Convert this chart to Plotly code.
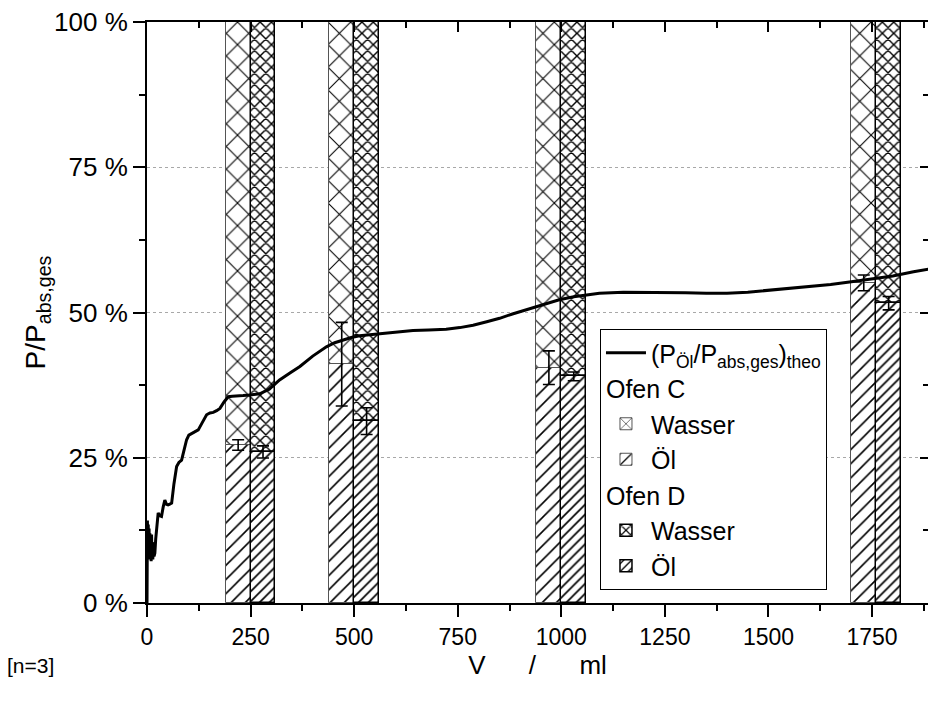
import plotly.graph_objects as go

# Volumes of the measured samples (ml) and bar geometry
volumes = [250, 500, 1000, 1760]
BAR_W = 60

# Oil share of absorbed power (%), furnace C and D, with standard deviation
oel_C = [27.2, 41.1, 40.5, 55.1]
err_C = [0.9, 7.2, 2.9, 1.35]
oel_D = [26.0, 31.3, 39.0, 51.6]
err_D = [1.05, 2.3, 0.75, 1.15]

# Theoretical oil share over volume
theo_V = [0, 0.5, 1, 2, 3, 4, 5, 6, 7, 8, 9, 10, 11, 12, 13, 14, 15.5, 17, 19, 21, 24, 27,
          31, 35, 39, 43, 47, 51, 55, 59.5, 65, 71.5, 77, 83.5, 90, 95.6, 101, 107.7, 115,
          123.7, 133, 143.8, 152, 159.9, 168, 176, 186, 196, 206, 216, 232, 248, 260, 272,
          295, 320, 345, 369, 400, 433, 453, 473, 493, 513, 540, 562, 600, 642, 680, 722,
          755, 787, 820, 851, 880, 907, 939, 965, 995, 1030, 1060, 1092, 1150, 1200, 1250,
          1300, 1350, 1400, 1450, 1500, 1550, 1600, 1650, 1700, 1750, 1800, 1850, 1890]
theo_P = [0, 6, 14.2, 9, 13.5, 8, 12.8, 7.5, 12, 8.5, 11.5, 7.2, 11.8, 8, 10.5, 7.5, 10, 8.0,
          8.6, 11, 14, 15.5, 15.0, 14.9, 16.5, 17.7, 17.0, 16.9, 17.0, 17.2, 20.5, 23.5, 24.2,
          24.6, 26.5, 28.1, 28.9, 29.2, 29.5, 29.8, 31.0, 32.4, 32.7, 32.8, 33.1, 33.5, 34.6,
          35.5, 35.6, 35.6, 35.7, 35.8, 35.9, 36.0, 36.8, 38.4, 39.6, 40.7, 42.5, 44.1, 44.8,
          45.3, 45.7, 46.0, 46.2, 46.3, 46.6, 46.9, 47.0, 47.1, 47.4, 47.8, 48.4, 49.0, 49.7,
          50.3, 51.0, 51.6, 52.2, 52.7, 53.0, 53.3, 53.5, 53.5, 53.5, 53.4, 53.3, 53.3, 53.5,
          53.8, 54.1, 54.5, 54.8, 55.3, 55.8, 56.3, 57.0, 57.5]

y_ticks = [0, 25, 50, 75, 100]
y_labels = [f"{v} %" for v in y_ticks]
x_ticks = [0, 250, 500, 750, 1000, 1250, 1500, 1750]
X_MAX = 1885

wasser_C = [100 - v for v in oel_C]
wasser_D = [100 - v for v in oel_D]
x_C = [v - BAR_W / 2 for v in volumes]
x_D = [v + BAR_W / 2 for v in volumes]

FONT = "Liberation Sans, Arial, sans-serif"
SP = "\u00a0" * 6


def hatch(shape, size, solidity):
    return dict(shape=shape, size=size, solidity=solidity, fgcolor="black",
                bgcolor="white", fillmode="replace")


fig = go.Figure()

fig.add_trace(go.Scatter(
    x=theo_V, y=theo_P, mode="lines", line=dict(color="black", width=3),
    name="(P<sub>Öl</sub>/P<sub>abs,ges</sub>)<sub>theo</sub>", legendgroup="theo"))

# Furnace C: water on top of oil
fig.add_trace(go.Bar(
    x=volumes, y=wasser_C, base=oel_C, width=BAR_W, offset=-BAR_W, name="Wasser",
    marker=dict(color="white", line=dict(color="#555555", width=1),
                pattern=hatch("x", 16, 0.13)),
    legendgroup="C", legendgrouptitle=dict(text="Ofen C")))
fig.add_trace(go.Bar(
    x=volumes, y=oel_C, width=BAR_W, offset=-BAR_W, name="Öl",
    marker=dict(color="white", line=dict(color="#555555", width=1),
                pattern=hatch("/", 10, 0.16)),
    legendgroup="C"))

# Furnace D
fig.add_trace(go.Bar(
    x=volumes, y=wasser_D, base=oel_D, width=BAR_W, offset=0, name="Wasser",
    marker=dict(color="white", line=dict(color="black", width=1.5),
                pattern=hatch("x", 8, 0.32)),
    legendgroup="D", legendgrouptitle=dict(text="Ofen D")))
fig.add_trace(go.Bar(
    x=volumes, y=oel_D, width=BAR_W, offset=0, name="Öl",
    marker=dict(color="white", line=dict(color="black", width=1.5),
                pattern=hatch("/", 7, 0.24)),
    legendgroup="D"))

# Error bars at the oil/water boundary
for xs, ys, es in ((x_C, oel_C, err_C), (x_D, oel_D, err_D)):
    fig.add_trace(go.Scatter(
        x=xs, y=ys, mode="markers", marker=dict(size=1, color="rgba(0,0,0,0)"),
        error_y=dict(type="data", array=es, visible=True, color="black",
                     thickness=1.6, width=6),
        showlegend=False, hoverinfo="skip"))

# Mirrored frame axes (top and right) with inward ticks
fig.add_trace(go.Scatter(x=[None], y=[None], xaxis="x2", yaxis="y2", showlegend=False))

axis_common = dict(showline=True, linecolor="black", linewidth=2, zeroline=False,
                   ticks="outside", ticklen=12, tickwidth=2, tickcolor="black")

fig.update_layout(
    width=928, height=702,
    margin=dict(l=147, r=0, t=22, b=99),
    paper_bgcolor="white", plot_bgcolor="white",
    barmode="overlay", bargap=0,
    font=dict(family=FONT, color="black"),
    xaxis=dict(range=[0, X_MAX], tickvals=x_ticks, showgrid=False,
               tickfont=dict(size=23),
               minor=dict(ticks="outside", ticklen=6, tickwidth=2, dtick=125,
                          tickcolor="black", showgrid=False),
               title=dict(text=f"V{SP}/{SP}ml", font=dict(size=26), standoff=4),
               **axis_common),
    yaxis=dict(range=[0, 100], tickvals=y_ticks, ticktext=y_labels,
               tickfont=dict(size=26), showgrid=True, gridcolor="#a8a8a8",
               griddash="dot", gridwidth=1,
               minor=dict(ticks="outside", ticklen=6, tickwidth=2, dtick=12.5,
                          tickcolor="black", showgrid=False),
               title=dict(text="P/P<sub>abs,ges</sub>", font=dict(size=28), standoff=0),
               **axis_common),
    xaxis2=dict(overlaying="x", side="top", range=[0, X_MAX], tickvals=x_ticks,
                showticklabels=False, showgrid=False, zeroline=False,
                showline=True, linecolor="black", linewidth=2,
                ticks="inside", ticklen=10, tickwidth=2, tickcolor="black",
                minor=dict(ticks="inside", ticklen=6, tickwidth=2, dtick=125,
                           tickcolor="black", showgrid=False)),
    yaxis2=dict(overlaying="y", side="right", range=[0, 100], tickvals=y_ticks,
                showticklabels=False, showgrid=False, zeroline=False, showline=False,
                ticks="inside", ticklen=8, tickwidth=2, tickcolor="black",
                minor=dict(ticks="inside", ticklen=5, tickwidth=2, dtick=12.5,
                           tickcolor="black", showgrid=False)),
    legend=dict(x=0.58, y=0.4716, xanchor="left", yanchor="top",
                bordercolor="black", borderwidth=1, bgcolor="white",
                font=dict(size=25), grouptitlefont=dict(size=25),
                traceorder="grouped", tracegroupgap=0, itemwidth=40),
    annotations=[dict(text="[n=3]", xref="paper", yref="paper", x=-142 / 781, y=-0.107,
                      xanchor="left", yanchor="middle", showarrow=False,
                      font=dict(size=21))],
)

fig.write_html("out.html")
